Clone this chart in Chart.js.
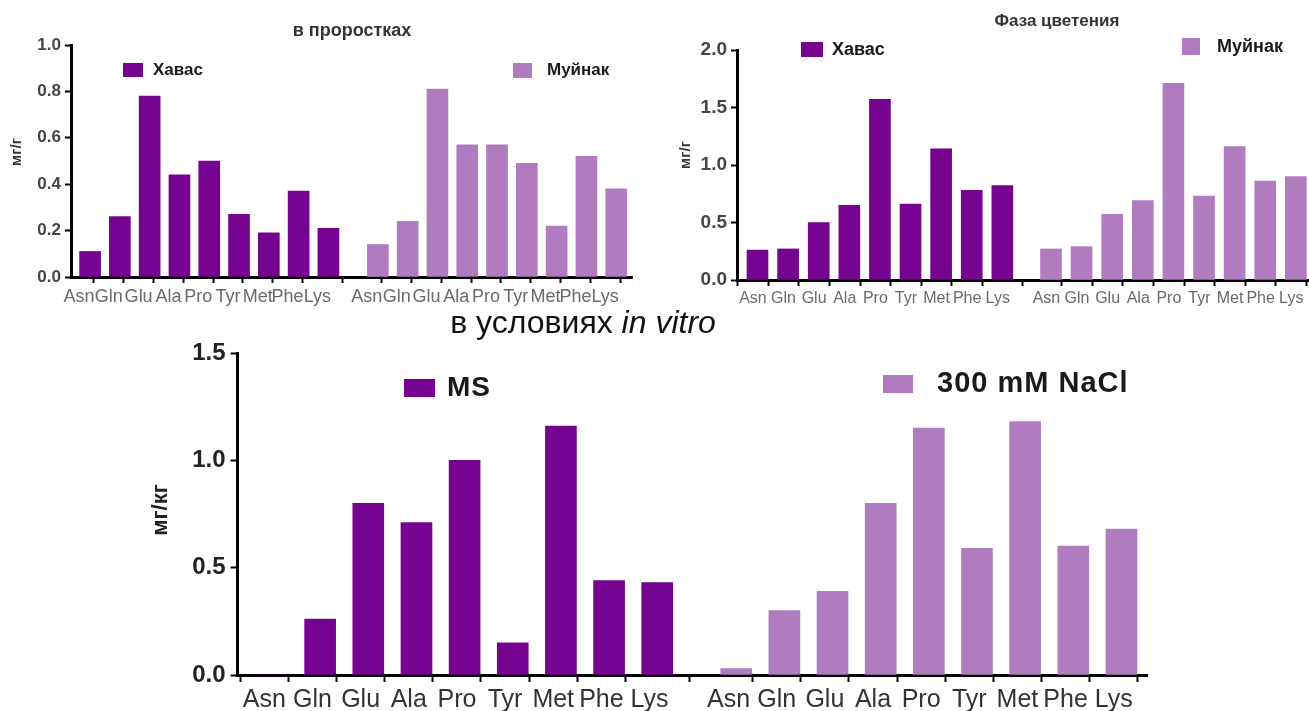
<!DOCTYPE html>
<html>
<head>
<meta charset="utf-8">
<script src="https://cdn.jsdelivr.net/npm/chart.js@4.4.1/dist/chart.umd.min.js"></script>
<style>
  html, body { margin: 0; padding: 0; background: #fff; overflow: hidden; width: 1309px; height: 711px; }
  canvas { position: absolute; left: 0; top: 0; }
</style>
</head>
<body>
<canvas id="sprouts" width="1309" height="711"></canvas>
<canvas id="bloom" width="1309" height="711"></canvas>
<canvas id="vitro" width="1309" height="711"></canvas>
<script>
// Amino acids on the x axis (repeated for each group)
const aminoAcids = ['Asn', 'Gln', 'Glu', 'Ala', 'Pro', 'Tyr', 'Met', 'Phe', 'Lys'];

// Seedlings, mg/g
const sproutHavas  = [0.11, 0.26, 0.78, 0.44, 0.50, 0.27, 0.19, 0.37, 0.21];
const sproutMuynak = [0.14, 0.24, 0.81, 0.57, 0.57, 0.49, 0.22, 0.52, 0.38];

// Flowering phase, mg/g
const bloomHavas  = [0.26, 0.27, 0.50, 0.65, 1.57, 0.66, 1.14, 0.78, 0.82];
const bloomMuynak = [0.27, 0.29, 0.57, 0.69, 1.71, 0.73, 1.16, 0.86, 0.90];

// In vitro, mg/kg
const vitroMS   = [0.00, 0.26, 0.80, 0.71, 1.00, 0.15, 1.16, 0.44, 0.43];
const vitroNaCl = [0.03, 0.30, 0.39, 0.80, 1.15, 0.59, 1.18, 0.60, 0.68];

// Y tick values
const sproutYTicks = [0, 0.2, 0.4, 0.6, 0.8, 1.0];
const bloomYTicks  = [0, 0.5, 1.0, 1.5, 2.0];
const vitroYTicks  = [0, 0.5, 1.0, 1.5];

const DARK = '#76038f';
const LIGHT = '#b07bbf';
const FONT = '"Liberation Sans", Arial, sans-serif';
const PAGE_W = 1309, PAGE_H = 711;

// Titles, legend boxes and rotated axis titles drawn on top of each chart
const decor = {
  id: 'decor',
  afterDraw(chart, args, opts) {
    const ctx = chart.ctx;
    ctx.save();
    (opts.texts || []).forEach(t => {
      ctx.save();
      ctx.fillStyle = t.color || '#222';
      ctx.textBaseline = 'middle';
      ctx.translate(t.x, t.y);
      if (t.rotate) ctx.rotate(t.rotate);
      const parts = t.parts || [{ text: t.text, font: t.font }];
      let total = 0;
      parts.forEach(p => { ctx.font = p.font; p.w = ctx.measureText(p.text).width; total += p.w; });
      let x = -total / 2;
      ctx.textAlign = 'left';
      parts.forEach(p => { ctx.font = p.font; ctx.fillText(p.text, x, 0); x += p.w; });
      ctx.restore();
    });
    (opts.legend || []).forEach(l => {
      const ds = chart.data.datasets[l.ds];
      ctx.fillStyle = ds.backgroundColor;
      ctx.fillRect(l.box[0], l.box[1], l.box[2], l.box[3]);
      ctx.fillStyle = '#1a1a1a';
      ctx.font = l.font;
      ctx.letterSpacing = (l.spacing || 0) + 'px';
      ctx.textAlign = 'left';
      ctx.textBaseline = 'middle';
      ctx.fillText(ds.label, l.tx, l.ty);
      ctx.letterSpacing = '0px';
    });
    ctx.restore();
  }
};

function buildChart(id, cfg) {
  const a = cfg.area;
  const yW = 60;
  const datasets = cfg.series.map((s, g) => ({
    label: s.label,
    data: s.values.map((v, i) => ({ x: cfg.groupStart[g] + i, y: v })),
    backgroundColor: s.color,
    borderWidth: 0,
    grouped: false,
    barThickness: cfg.barWidth
  }));
  // tick marks and their labels sit slightly left of the bar centres
  const xTicks = [], xLabels = [];
  cfg.series.forEach((s, g) => aminoAcids.forEach((c, i) => {
    xTicks.push(cfg.groupStart[g] + i - cfg.tickShift);
    xLabels.push(c);
  }));
  const axisGrid = { drawOnChartArea: false, drawTicks: true, tickLength: cfg.tickLen, tickWidth: 2, color: '#000' };
  const axisBorder = { display: true, color: '#000', width: 3 };

  return new Chart(document.getElementById(id), {
    type: 'bar',
    data: { datasets },
    options: {
      responsive: false,
      animation: false,
      events: [],
      layout: { padding: { left: a.left - yW, top: a.top, right: PAGE_W - a.right, bottom: PAGE_H - a.bottom - cfg.xH } },
      plugins: { legend: { display: false }, tooltip: { enabled: false }, decor: cfg.decor },
      scales: {
        x: {
          type: 'linear', min: cfg.xMin, max: cfg.xMax, z: 1, offset: false,
          afterBuildTicks: ax => { ax.ticks = xTicks.map(v => ({ value: v })); },
          afterFit: ax => { ax.height = cfg.xH; },
          ticks: {
            autoSkip: false, maxRotation: 0, minRotation: 0, padding: cfg.xPad,
            color: cfg.xColor, font: { family: FONT, size: cfg.xSize },
            callback: (v, i) => xLabels[i]
          },
          grid: axisGrid, border: axisBorder
        },
        y: {
          min: 0, max: cfg.yTicks[cfg.yTicks.length - 1], z: 1,
          afterBuildTicks: ax => { ax.ticks = cfg.yTicks.map(v => ({ value: v })); },
          afterFit: ax => { ax.width = yW; },
          ticks: {
            padding: cfg.yPad, color: cfg.yColor,
            font: { family: FONT, size: cfg.ySize, weight: 'bold' },
            callback: v => v.toFixed(1)
          },
          grid: axisGrid, border: axisBorder
        }
      }
    },
    plugins: [decor]
  });
}

// в проростках
buildChart('sprouts', {
  area: { left: 71, top: 45, right: 632, bottom: 277 },
  xMin: -0.64, xMax: 18.19, groupStart: [0, 9.66], tickShift: 0.37, barWidth: 21,
  xH: 34, tickLen: 6, xPad: 3, xSize: 18, xColor: '#6a6a6a',
  yTicks: sproutYTicks, yPad: 4, ySize: 17, yColor: '#444',
  series: [
    { label: 'Хавас', values: sproutHavas, color: DARK },
    { label: 'Муйнак', values: sproutMuynak, color: LIGHT }
  ],
  decor: {
    texts: [
      { text: 'в проростках', x: 352, y: 31, font: 'bold 18px ' + FONT, color: '#333' },
      { text: 'мг/г', x: 17, y: 152, rotate: -Math.PI / 2, font: 'bold 15px ' + FONT, color: '#333' }
    ],
    legend: [
      { ds: 0, box: [123, 63, 20, 14], tx: 153, ty: 70, font: 'bold 17px ' + FONT },
      { ds: 1, box: [513, 63, 19, 15], tx: 547, ty: 70, font: 'bold 17px ' + FONT }
    ]
  }
});

// Фаза цветения
buildChart('bloom', {
  area: { left: 737, top: 50, right: 1309, bottom: 280 },
  xMin: -0.67, xMax: 18.02, groupStart: [0, 9.59], tickShift: 0.15, barWidth: 21,
  xH: 34, tickLen: 6, xPad: 3, xSize: 16, xColor: '#6a6a6a',
  yTicks: bloomYTicks, yPad: 4, ySize: 19, yColor: '#444',
  series: [
    { label: 'Хавас', values: bloomHavas, color: DARK },
    { label: 'Муйнак', values: bloomMuynak, color: LIGHT }
  ],
  decor: {
    texts: [
      { text: 'Фаза цветения', x: 1057, y: 21, font: 'bold 17px ' + FONT, color: '#333' },
      { text: 'мг/г', x: 686, y: 155, rotate: -Math.PI / 2, font: 'bold 15px ' + FONT, color: '#333' }
    ],
    legend: [
      { ds: 0, box: [801, 42, 22, 15], tx: 832, ty: 50, font: 'bold 18px ' + FONT },
      { ds: 1, box: [1182, 38, 18, 17], tx: 1217, ty: 47, font: 'bold 18px ' + FONT }
    ]
  }
});

// в условиях in vitro
buildChart('vitro', {
  area: { left: 237.6, top: 353, right: 1147, bottom: 675 },
  xMin: -0.714, xMax: 18.17, groupStart: [0, 9.64], tickShift: 0.16, barWidth: 31,
  xH: 36, tickLen: 7, xPad: 3, xSize: 25, xColor: '#333',
  yTicks: vitroYTicks, yPad: 5, ySize: 24, yColor: '#222',
  series: [
    { label: 'MS', values: vitroMS, color: DARK },
    { label: '300 mM NaCl', values: vitroNaCl, color: LIGHT }
  ],
  decor: {
    texts: [
      { parts: [
          { text: 'в условиях ', font: '32px ' + FONT },
          { text: 'in vitro', font: 'italic 32px ' + FONT }
        ], x: 583, y: 324, color: '#111' },
      { text: 'мг/кг', x: 161, y: 510, rotate: -Math.PI / 2, font: 'bold 22px ' + FONT, color: '#222' }
    ],
    legend: [
      { ds: 0, box: [404, 379, 31, 18], tx: 447, ty: 388, font: 'bold 28px ' + FONT, spacing: 1 },
      { ds: 1, box: [883, 375, 30, 18], tx: 937, ty: 384, font: 'bold 29px ' + FONT, spacing: 1 }
    ]
  }
});
</script>
</body>
</html>
